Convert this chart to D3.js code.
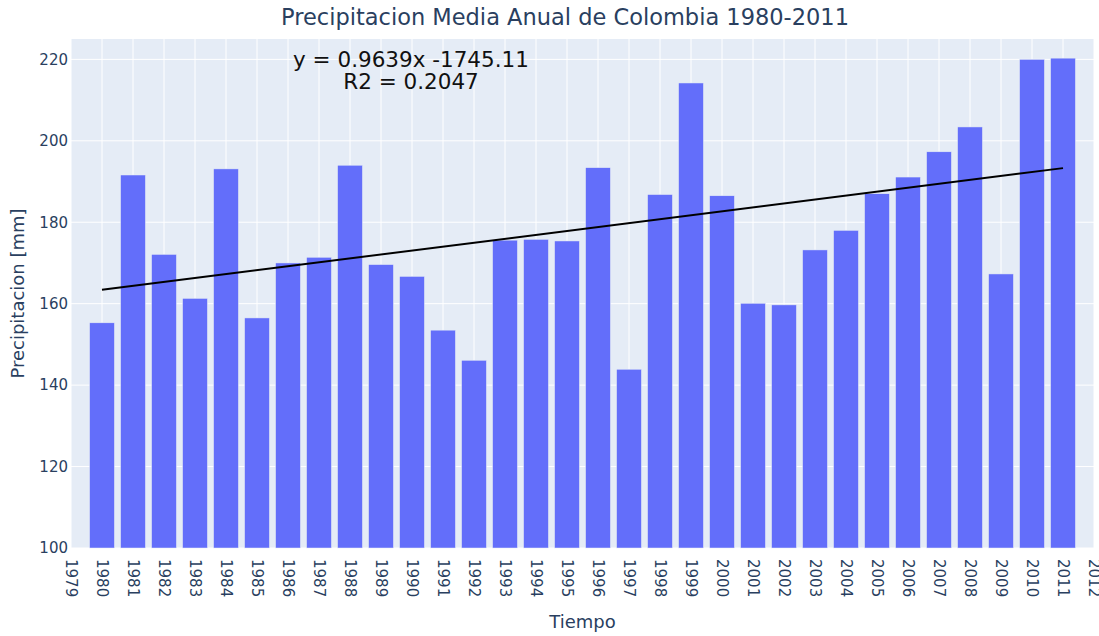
<!DOCTYPE html>
<html>
<head>
<meta charset="utf-8">
<script src="https://cdn.jsdelivr.net/npm/d3@7"></script>
<style>
  body { margin: 0; background: #fff; }
  text { font-family: "DejaVu Sans", Verdana, Arial, sans-serif; }
</style>
</head>
<body>
<div id="chart"></div>
<script>
// Data
var years = [1980, 1981, 1982, 1983, 1984, 1985, 1986, 1987, 1988, 1989,
             1990, 1991, 1992, 1993, 1994, 1995, 1996, 1997, 1998, 1999,
             2000, 2001, 2002, 2003, 2004, 2005, 2006, 2007, 2008, 2009,
             2010, 2011];
var precip = [155.3, 191.6, 172.1, 161.3, 193.1, 156.5, 170.0, 171.4, 194.0, 169.6,
              166.7, 153.5, 146.1, 175.6, 175.8, 175.4, 193.4, 143.9, 186.8, 214.2,
              186.5, 160.1, 159.7, 173.2, 178.0, 187.0, 191.1, 197.3, 203.4, 167.3,
              220.0, 220.3];
var trendYears = [1980, 2011];
var trendValues = [163.41, 193.29];
var xTicks = d3.range(1979, 2013);
var yTicks = [100, 120, 140, 160, 180, 200, 220];
var annotationLines = ['y = 0.9639x -1745.11', 'R2 = 0.2047'];

var width = 1099, height = 636;
var margin = {top: 39, right: 5, bottom: 88, left: 71};
var drawWidth = width - margin.left - margin.right;
var drawHeight = height - margin.top - margin.bottom;

var svg = d3.select('#chart').append('svg')
    .attr('width', width)
    .attr('height', height);

var g = svg.append('g')
    .attr('transform', 'translate(' + margin.left + ',' + margin.top + ')');

var xScale = d3.scaleLinear().domain([1979, 2012]).range([0, drawWidth]);
var yScale = d3.scaleLinear().domain([100, 225]).range([drawHeight, 0]);
var barW = (xScale(1) - xScale(0)) * 0.8;

// Plot background
g.append('rect')
    .attr('width', drawWidth)
    .attr('height', drawHeight)
    .attr('fill', '#e5ecf6');

// Grid lines
g.selectAll('.vgrid').data(xTicks).enter().append('line')
    .attr('class', 'vgrid')
    .attr('x1', function(d) { return xScale(d); })
    .attr('x2', function(d) { return xScale(d); })
    .attr('y1', 0).attr('y2', drawHeight)
    .attr('stroke', '#fff').attr('stroke-width', 1);

g.selectAll('.hgrid').data(yTicks).enter().append('line')
    .attr('class', 'hgrid')
    .attr('x1', 0).attr('x2', drawWidth)
    .attr('y1', function(d) { return yScale(d); })
    .attr('y2', function(d) { return yScale(d); })
    .attr('stroke', '#fff').attr('stroke-width', 1);

// Bars
g.selectAll('.bar').data(years).enter().append('rect')
    .attr('class', 'bar')
    .attr('x', function(d) { return xScale(d) - barW / 2; })
    .attr('width', barW)
    .attr('y', function(d, i) { return yScale(precip[i]); })
    .attr('height', function(d, i) { return yScale(100) - yScale(precip[i]); })
    .attr('fill', '#636efa')
    .attr('stroke', '#e5ecf6')
    .attr('stroke-width', 0.5);

// Trend line
var line = d3.line()
    .x(function(d) { return xScale(d[0]); })
    .y(function(d) { return yScale(d[1]); });
g.append('path')
    .attr('d', line(d3.zip(trendYears, trendValues)))
    .attr('fill', 'none')
    .attr('stroke', '#000')
    .attr('stroke-width', 2);

// Axes
var xAxis = d3.axisBottom(xScale).tickValues(xTicks).tickFormat(d3.format('d'))
    .tickSize(0).tickPadding(0);
var yAxis = d3.axisLeft(yScale).tickValues(yTicks).tickSize(0).tickPadding(3);

var xg = g.append('g')
    .attr('transform', 'translate(0,' + drawHeight + ')')
    .call(xAxis);
xg.select('.domain').remove();
xg.selectAll('text')
    .attr('y', 0).attr('x', 0).attr('dy', '0.35em')
    .attr('transform', 'translate(0,11) rotate(90)')
    .style('text-anchor', 'start')
    .attr('fill', '#2a3f5f')
    .style('font-family', '"DejaVu Sans", Verdana, sans-serif')
    .style('font-size', '15px');

var yg = g.append('g').call(yAxis);
yg.select('.domain').remove();
yg.selectAll('text')
    .attr('fill', '#2a3f5f')
    .style('font-family', '"DejaVu Sans", Verdana, sans-serif')
    .style('font-size', '15px');

// Titles
svg.append('text')
    .attr('x', 565).attr('y', 25)
    .attr('text-anchor', 'middle')
    .attr('fill', '#2a3f5f')
    .style('font-size', '22.5px')
    .text('Precipitacion Media Anual de Colombia 1980-2011');

svg.append('text')
    .attr('x', margin.left + drawWidth / 2).attr('y', 628)
    .attr('text-anchor', 'middle')
    .attr('fill', '#2a3f5f')
    .style('font-size', '18px')
    .text('Tiempo');

svg.append('text')
    .attr('transform', 'translate(24,' + (margin.top + drawHeight / 2) + ') rotate(-90)')
    .attr('text-anchor', 'middle')
    .attr('fill', '#2a3f5f')
    .style('font-size', '18px')
    .text('Precipitacion [mm]');

// Regression annotation
svg.append('text')
    .attr('x', 411).attr('y', 67)
    .attr('text-anchor', 'middle')
    .attr('fill', '#111')
    .style('font-size', '21.5px')
    .selectAll('tspan').data(annotationLines).enter().append('tspan')
    .attr('x', 411)
    .attr('dy', function(d, i) { return i === 0 ? 0 : 22; })
    .text(function(d) { return d; });
</script>
</body>
</html>
